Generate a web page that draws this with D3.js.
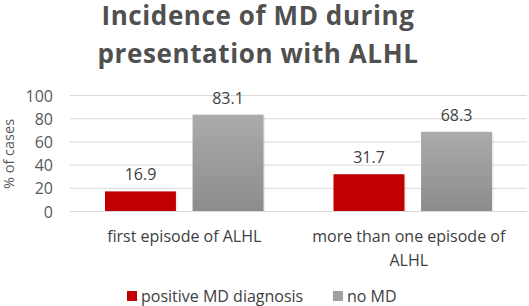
<!DOCTYPE html>
<html><head><meta charset="utf-8">
<script src="https://cdn.jsdelivr.net/npm/d3@7"></script>
<style>body{margin:0;background:#fff}svg{display:block}text{font-family:"Open Sans",Lato,sans-serif}</style>
</head><body><svg id="c" width="529" height="306"></svg>
<script>
const categories = [["first episode of ALHL"], ["more than one episode of", "ALHL"]];
const categoryKeys = ["first", "more"];
const seriesNames = ["positive MD diagnosis", "no MD"];
const positiveMD = [16.9, 31.7];
const noMD = [83.1, 68.3];
const yTicks = [0, 20, 40, 60, 80, 100];
const colors = ["#c00000", "#a0a0a0"];

(function(){
const svg = d3.select("#c");
const defs = svg.append("defs");
const g1 = defs.append("linearGradient").attr("id","gray").attr("x1",0).attr("y1",0).attr("x2",0).attr("y2",1);
g1.append("stop").attr("offset","0%").attr("stop-color","#ababab");
g1.append("stop").attr("offset","100%").attr("stop-color","#8c8c8c");

const mL = 70, mR = 527, mT = 95, mB = 211;
const x0 = d3.scaleBand().domain(categoryKeys).range([mL, mR]).paddingInner(0).paddingOuter(0);
const x1 = d3.scaleBand().domain([0,1]).range([35, x0.bandwidth()-35]).paddingInner(0.19);
const y = d3.scaleLinear().domain([0,100]).range([mB, mT]);

svg.append("g").selectAll("line").data(yTicks).join("line")
  .attr("x1", mL).attr("x2", mR).attr("y1", d=>y(d)+0.5).attr("y2", d=>y(d)+0.5)
  .attr("stroke", "#d9d9d9").attr("stroke-width", 1);

const yAxis = d3.axisLeft(y).tickValues(yTicks).tickSize(0).tickPadding(0);
const ya = svg.append("g").attr("transform", `translate(53,1)`).call(yAxis);
ya.select(".domain").remove();
ya.selectAll("text").attr("font-size", 16).attr("fill", "#595959").attr("font-family","Open Sans");

svg.append("text").attr("transform", `translate(14,154) rotate(-90)`)
  .attr("text-anchor","middle").attr("font-size",14.5).attr("fill","#595959").text("% of cases");

const series = [positiveMD, noMD];
categoryKeys.forEach((k, ci) => {
  series.forEach((vals, si) => {
    const bx = x0(k) + x1(si);
    const v = vals[ci];
    svg.append("rect").attr("x", bx+1.5).attr("y", y(v)+1.5).attr("width", x1.bandwidth()).attr("height", mB - y(v)-1.5)
      .attr("fill", "#000").attr("opacity", 0.08);
    svg.append("rect").attr("x", bx).attr("y", y(v)).attr("width", x1.bandwidth()).attr("height", mB - y(v))
      .attr("fill", si === 0 ? colors[0] : "url(#gray)");
    svg.append("text").attr("x", bx + x1.bandwidth()/2).attr("y", y(v) - 11)
      .attr("text-anchor","middle").attr("font-size",16).attr("fill","#404040").text(v.toFixed(1));
  });
  const cx = x0(k) + x0.bandwidth()/2;
  const t = svg.append("text").attr("text-anchor","middle").attr("font-size",16).attr("fill","#404040");
  categories[ci].forEach((line, li) => {
    t.append("tspan").attr("x", cx - (ci===1?4:0)).attr("y", 242 + li*24).text(line);
  });
});

const title = svg.append("text").attr("text-anchor","middle").attr("font-size",26).attr("font-weight","bold").attr("fill","#505050").attr("letter-spacing","0.6px");
title.append("tspan").attr("x", 258).attr("y", 25).text("Incidence of MD during");
title.append("tspan").attr("x", 258).attr("y", 63).text("presentation with ALHL");

const leg = [{x:127, name: seriesNames[0], fill: colors[0]}, {x:333, name: seriesNames[1], fill: "#a0a0a0"}];
leg.forEach(l => {
  svg.append("rect").attr("x", l.x).attr("y", 291).attr("width", 10).attr("height", 10).attr("fill", l.fill);
  svg.append("text").attr("x", l.x + 14).attr("y", 302).attr("font-size", 16).attr("fill","#404040").text(l.name);
});
})();
</script></body></html>
